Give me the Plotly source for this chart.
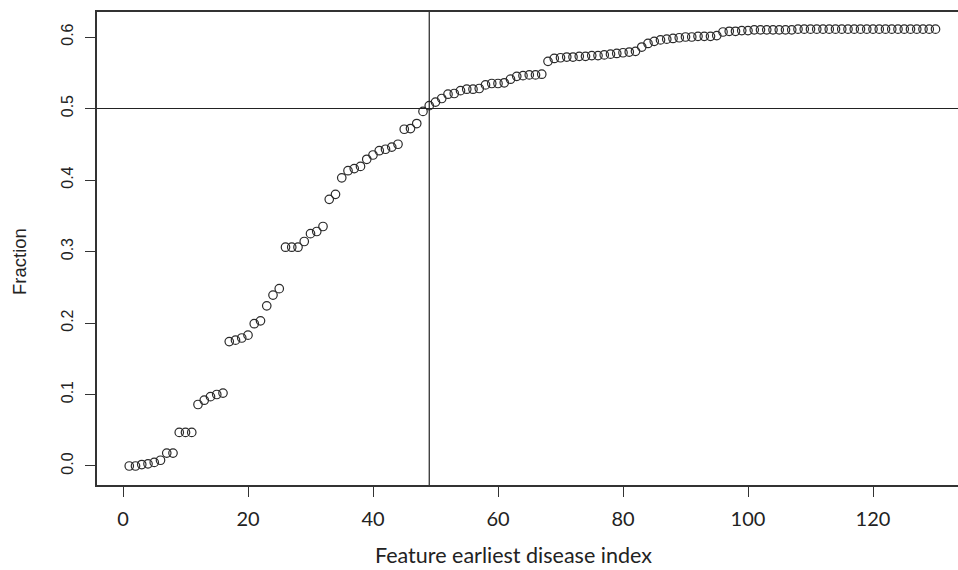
import plotly.graph_objects as go

# Feature earliest disease index (1..130) and cumulative fraction
feature_index = list(range(1, 131))
fraction = [
    0.000, 0.000, 0.002, 0.003, 0.005, 0.008, 0.018, 0.018, 0.047, 0.047,
    0.047, 0.086, 0.092, 0.097, 0.100, 0.102, 0.174, 0.176, 0.179, 0.183,
    0.199, 0.203, 0.224, 0.239, 0.248, 0.306, 0.306, 0.306, 0.314, 0.325,
    0.328, 0.335, 0.373, 0.380, 0.403, 0.413, 0.416, 0.419, 0.429, 0.435,
    0.441, 0.443, 0.446, 0.450, 0.471, 0.472, 0.479, 0.496, 0.504, 0.509,
    0.514, 0.520, 0.521, 0.525, 0.527, 0.527, 0.528, 0.533, 0.535, 0.535,
    0.536, 0.541, 0.545, 0.546, 0.547, 0.547, 0.548, 0.566, 0.570, 0.571,
    0.572, 0.572, 0.573, 0.573, 0.574, 0.574, 0.575, 0.576, 0.577, 0.578,
    0.579, 0.580, 0.586, 0.591, 0.594, 0.596, 0.597, 0.598, 0.599, 0.600,
    0.600, 0.601, 0.601, 0.601, 0.602, 0.607, 0.608, 0.608, 0.609, 0.609,
    0.610, 0.610, 0.610, 0.610, 0.610, 0.610, 0.610, 0.611, 0.611, 0.611,
    0.611, 0.611, 0.611, 0.611, 0.611, 0.611, 0.611, 0.611, 0.611, 0.611,
    0.611, 0.611, 0.611, 0.611, 0.611, 0.611, 0.611, 0.611, 0.611, 0.611,
]
cutoff_x = 49
cutoff_y = 0.5

x_ticks = [0, 20, 40, 60, 80, 100, 120]
y_ticks = [0.0, 0.1, 0.2, 0.3, 0.4, 0.5, 0.6]
y_tick_labels = ["0.0", "0.1", "0.2", "0.3", "0.4", "0.5", "0.6"]
x_title = "Feature earliest disease index"
y_title = "Fraction"

fig = go.Figure()
fig.add_trace(go.Scatter(
    x=feature_index, y=fraction, mode="markers",
    marker=dict(symbol="circle-open", size=8.5,
                color="#2a2a2a", line=dict(width=1.2, color="#2a2a2a")),
    showlegend=False, hoverinfo="x+y",
))
fig.add_hline(y=cutoff_y, line=dict(color="#222222", width=1.2))
fig.add_vline(x=cutoff_x, line=dict(color="#222222", width=1.2))

fig.update_layout(
    width=958, height=570,
    margin=dict(l=97, r=0, t=12, b=85),
    paper_bgcolor="white", plot_bgcolor="white",
    font=dict(family="Liberation Sans, Arial", color="#222222"),
    annotations=[
        dict(text=x_title, xref="paper", yref="paper", x=(513 - 97) / 861,
             y=-(555 - 485) / 473, xanchor="center", yanchor="middle",
             showarrow=False,
             font=dict(family="Lato, Liberation Sans", size=21.5, color="#222222")),
        dict(text=y_title, xref="paper", yref="paper", x=-(97 - 19) / 861,
             y=(485 - 262) / 473, xanchor="center", yanchor="middle",
             textangle=-90, showarrow=False,
             font=dict(family="Liberation Sans, Arial", size=18.5, color="#222222")),
    ],
)
fig.update_xaxes(
    range=[-4.16, 133.6], tickvals=x_ticks, automargin=False,
    showgrid=False, zeroline=False,
    showline=True, mirror=True, linecolor="#333333", linewidth=1.5,
    ticks="outside", ticklen=10, tickcolor="#333333", tickwidth=1.2,
    ticklabelstandoff=5,
    tickfont=dict(family="Lato, Liberation Sans", size=20, color="#222222"),
)
fig.update_yaxes(
    range=[-0.0266, 0.635], tickvals=y_ticks, ticktext=y_tick_labels,
    automargin=False,
    showgrid=False, zeroline=False,
    showline=True, mirror=False, linecolor="#333333", linewidth=1.5,
    ticks="outside", ticklen=10, tickcolor="#333333", tickwidth=1.2,
    tickangle=-90, ticklabelstandoff=6,
    tickfont=dict(family="Liberation Sans, Arial", size=16, color="#222222"),
)

fig.write_html("out.html", config={"displayModeBar": False},
               post_script="document.body.style.margin='0';document.body.style.overflow='hidden';")
